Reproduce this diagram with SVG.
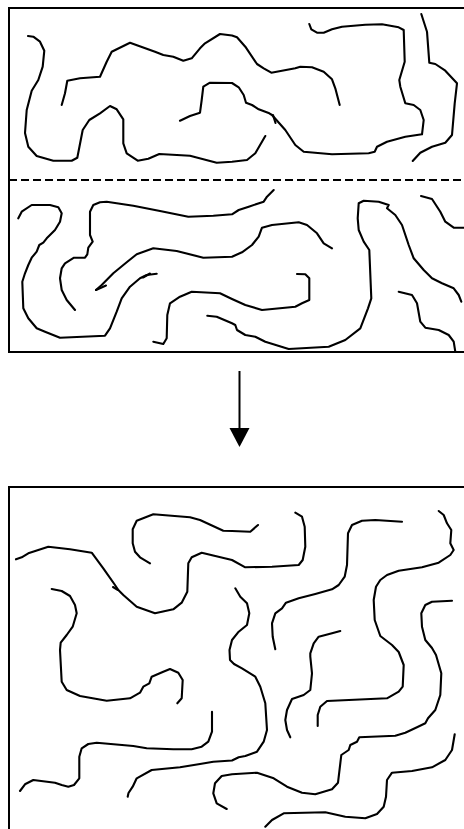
<svg xmlns="http://www.w3.org/2000/svg" width="464" height="829" viewBox="0 0 464 829">
<style>
.box{fill:none;stroke:#000;stroke-width:2}
.dash{fill:none;stroke:#000;stroke-width:2;stroke-dasharray:8,4}
.ch{fill:none;stroke:#000;stroke-width:2.1;stroke-linejoin:round;stroke-linecap:round}
.conn{fill:none;stroke:#000;stroke-width:2}
</style>
<defs>
<marker id="ah" markerUnits="userSpaceOnUse" markerWidth="20" markerHeight="21" refX="0" refY="10" orient="auto">
<path d="M0,0 L19,10 L0,20 z" fill="#000"/>
</marker>
</defs>
<rect x="0" y="0" width="464" height="829" fill="#fff"/>
<g id="before">
<rect class="box" x="9" y="8" width="470" height="344"/>
<line class="dash" x1="9" y1="180" x2="464" y2="180"/>
<polyline id="chainA" class="ch" points="28,36 33.3,36.7 40,41.7 44.3,50.7 42.7,66.7 38.3,80 31.7,90.7 26.7,110 25,133 28.3,146.7 36.7,156 53.3,160.7 71.7,160.7 77.3,157.7 82.7,130 89.3,120 100,113.3 110,106 116.7,109.3 123.3,119.3 123.3,143.3 126.7,153.3 137.7,160.7 148.3,158.7 159.3,154 190,155.7 216.7,162.7 232,161.7 247,160 255.3,153.3 265.3,136"/>
<polyline id="chainB" class="ch" points="61.7,105 65,93.3 67.3,80.7 80,78.3 100,76.7 106.7,61.7 111.7,51.7 130,42.7 155,51.7 163.3,55 173.3,56.7 183.3,60.7 191.7,58.3 200,48.3 205,43.3 220,34 232,35.5 237,37.3 245.3,46.7 257,64 263.7,68.3 271.3,72.7 295.3,68.3 300.3,66.7 312,67.3 323.7,71.7 332,79.3 335.3,88.3 339.7,105"/>
<polyline id="chainC" class="ch" points="180,120.7 190,116 200,112.7 201.7,100 203.3,86.7 210,82.7 232,83 238.7,87.3 243.7,95 246,102.7 252,105 258.7,109.3 269.3,113.3 272,115 285.3,130 295.3,145 303.7,151.7 332,154.3 368.7,153.3 374.7,151.7 377,146.7 387,141.7 405.3,136.7 422,134.3 423.7,120 420.3,110 413.7,105 405.3,103.3 400.3,86.7 399.3,80 404.7,61.7 403.7,30 398.7,27.3 382,24.3 365.3,24.7 342,26.7 332,29.3 323.7,32.7 317,32.7 311.3,29.3 309.3,24"/>
<path class="ch" d="M273,115 L275.5,123"/>
<polyline id="chainD" class="ch" points="421.3,14 427,31.7 429.3,62.7 435.3,64 445.3,70.7 457,83.3 454.7,103.3 452,135 445.3,142.7 432,146.7 420.3,152.7 412.7,161"/>
<polyline id="chainE" class="ch" points="18.3,218.3 21.7,211.7 31.7,205 50,205 58.3,207.3 61.7,213.3 60,221.7 55,230 46.7,238.3 43.3,242.7 39.3,245 36.7,251.7 31.7,257.7 28.3,265 25,273.3 22.3,281.7 23.3,308.3 28.3,318.3 36.7,328.3 45,331.7 60,337.7 105,335.7 110,328.3 116.7,311.7 121.7,298.3 130,286.7 140,278.3 146.7,275 156.7,273.7"/>
<path class="ch" d="M143,277.5 L150,273.5"/>
<polyline id="chainF" class="ch" points="75,310 66.7,300 61.7,290 60,278.3 61.7,268.3 65,263.3 74,257.7 85,257.7 87.3,254.3 88.3,247.7 92.7,241.7 90,235 90,211.7 93.3,205 100,202.3 106.7,201.7 133.3,205.7 160,211 188.3,216.7 213.3,215.7 232,214.3 238.7,210 248.7,206.7 263.7,201.7 267,196.7 273.7,190"/>
<polyline id="chainG" class="ch" points="96,290 101.7,285 113.3,273.3 126.7,262.3 136.7,254.3 153.3,248.3 176.7,251 203.3,257.7 232,256.7 242,252.3 252,245 258.7,236.7 262,227.7 272,225 298.7,222.3 307,225 317,233.3 323.7,243.3 332,248.3"/>
<path class="ch" d="M96,290 L106,285.5"/>
<polyline id="chainH" class="ch" points="153.3,341.7 163.3,344 166.7,338.3 167.3,315 170,303.3 180,296.7 191.7,291.7 220,293.3 232,299 245.3,305 262,310 295.3,306.7 302,303.3 309.3,300 309.3,278.3 305.3,274.3 297,274"/>
<polyline id="chainI" class="ch" points="207.3,315.7 216.7,316.7 232,323.3 235.3,325 237,330 245.3,335 255.3,336.7 265.3,341.7 288.7,349 328.7,346.7 345.3,340 360.3,328.3 368,308.3 371.3,298.3 369.3,250 363.7,241.7 358.7,230 357.7,218.3 358.7,203.3 363.7,200.7 378.7,201.7 388.7,205 387,208.3 395.3,215 402,225 408.7,245 413.7,258.3 423.7,270 432,278.3 442,283.3 453.7,288.3 458.7,295 461.3,301.7"/>
<polyline id="chainJ" class="ch" points="421,196 432,199 440.3,211.7 445.3,221.7 453.7,227.7 464,227.7"/>
<polyline id="chainK" class="ch" points="398.7,291.7 412,295 417,303.3 420.3,321.7 425.3,327.7 438.7,330 448.7,335 453.7,341.7 455.3,351.7"/>
</g>
<g id="connectors">
<line class="conn" x1="239.5" y1="371" x2="239.5" y2="428" marker-end="url(#ah)"/>
</g>
<g id="after">
<rect class="box" x="9" y="487" width="470" height="400"/>
<polyline id="chainL" class="ch" points="16,559.3 21.7,557.3 28.3,553.3 48.3,546.7 70,549.3 91.7,552.7 103.3,568.3 115,585 118.3,590 123.3,595 136.7,606.7 155,613.3 173.3,609.3 181.7,602.7 187.3,591.7 188.3,563.3 191.7,557.3 201.7,552.7 232,560 245.3,567.3 272,566.7 298.7,565 302.7,560 305.3,546.7 304.7,526.7 302,516.7 295.3,512.7"/>
<path class="ch" d="M113,587 L118,590"/>
<polyline id="chainM" class="ch" points="150,563.3 140,557.3 135,551.7 132.7,543.3 132.7,529.3 136.7,520.7 153.3,514.3 190,517.3 200,520 223.3,530.7 232,531 250.3,531.7 258,525"/>
<polyline id="chainN" class="ch" points="51.7,589 61.7,591 70,596 75,605 76.7,613.3 72.7,626.7 66.7,635 60.7,642.7 60,650 61.7,681.7 66.7,690 80,696 106.7,700.7 130,698.3 140,692.7 143.3,686.7 149.3,683.3 151.7,676.7 163.3,671.7 170,669 178.3,672.7 182.7,680 181.7,698.3 177.3,703.3"/>
<polyline id="chainO" class="ch" points="235.3,588.3 240.3,596.7 247,603.3 249.3,613.3 247,625 238.7,631.7 232,640 229.5,650 230,660 234,664 242,668.3 255.3,676.7 260.3,686.7 265.3,703.3 267,730 263.7,741.7 257,751.7 245.3,756 238.7,757.3 232,760.5 213.3,761.7 200,764 180,767.3 151.7,770 136.7,778.3 132.7,786.7 128.5,793 127.7,796.7"/>
<polyline id="chainQ" class="ch" points="212,711.7 212,731.7 208.3,741.7 201.7,746.7 191.7,749.3 173.3,749.3 146.7,748.3 133.3,746 96.7,742.7 88.3,744 81.7,748.3 79.3,756.7 79.3,778.3 74,785 68.3,786.7 61.7,785 55,782.7 33.3,780 25,784.3 20,791"/>
<polyline id="chainR" class="ch" points="226.7,809 216.7,803.3 213.3,793.3 215,783.3 221.7,776 232,774.3 257,772.7 273.7,778.3 287,786.7 302,792.7 315.3,794.3 332,789.3 338,782.7 341.3,755 348.7,750 350.3,745 357,741.7 359.3,737.3 395.3,735.7 405.3,732.7 417,727.3 425.3,723.3 428,718.3 435.3,710 440.3,695 441.3,673.3 436,655 432,648 425.3,640 422,626.7 421.3,613.3 425.3,605 432,601.7 452,600.7"/>
<polyline id="chainS" class="ch" points="275.3,649.3 272.7,636.7 272,623.3 275.3,613.3 282,608.3 286,602.7 298.7,598.3 315.3,594 332,589.3 338.7,585 344.7,576.7 347,565 348,533.3 352,525 362,520.7 375.3,520 402,521.7"/>
<polyline id="chainT" class="ch" points="438.7,511 443.7,515 447,523.3 451.3,530 450.3,543.3 453.7,550 450.3,555 438.7,562.7 422,567.3 398.7,570.7 387,575 380.3,580 376,586.7 373.7,600 374.7,620 380.3,636 392,645 398.7,652 403.7,665 402.7,686.7 398.7,691.7 387,698.3 365.3,699.3 327,701 320.3,706.7 317.7,715 317.7,726"/>
<polyline id="chainU" class="ch" points="340.3,631 332,633.3 318.7,636.7 313.7,643.3 310.3,653.3 310.3,656.7 312,673.3 310.3,690 303.7,695 292,699 287,710 285.3,720 287,730 290.3,737.3"/>
<polyline id="chainV" class="ch" points="265.3,826.7 272,820 283.7,813.3 325.3,812.3 345.3,816.7 365.3,818.3 377,814 383.7,806.7 386,796.7 387,780 392,772.7 412,771 432,767.3 445.3,760 452,750 454.7,734.3"/>
</g>
</svg>
